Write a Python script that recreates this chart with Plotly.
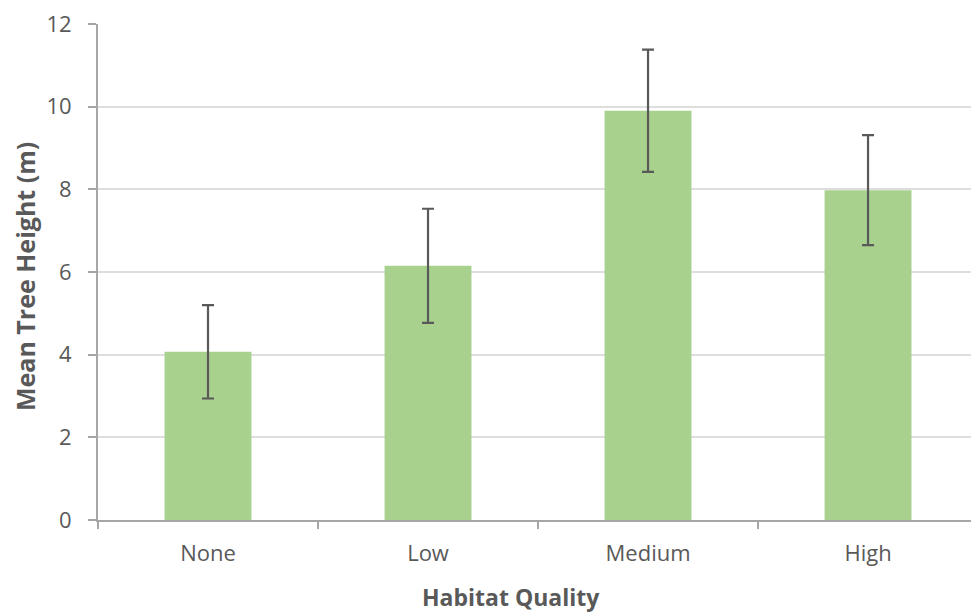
import plotly.graph_objects as go

# Mean tree height by habitat quality, with error bars
categories = ["None", "Low", "Medium", "High"]
mean_height = [4.07, 6.15, 9.9, 7.98]
error = [1.13, 1.38, 1.48, 1.33]
y_ticks = [0, 2, 4, 6, 8, 10, 12]

GREY_TEXT = "#595959"
AXIS_GREY = "#A6A6A6"
FONT = "Open Sans"

fig = go.Figure(
    go.Bar(
        x=categories,
        y=mean_height,
        marker=dict(color="#A9D18E", line=dict(width=0)),
        error_y=dict(type="data", array=error, visible=True,
                     color="#595959", thickness=2.2, width=6),
        width=0.395,
    )
)

fig.update_layout(
    width=971,
    height=613,
    margin=dict(l=98, r=0, t=24, b=93),
    paper_bgcolor="white",
    plot_bgcolor="white",
    showlegend=False,
    font=dict(family=FONT, color=GREY_TEXT, size=22),
    xaxis=dict(
        range=[-0.5, 3.468],
        tickson="boundaries",
        ticks="outside",
        ticklen=7,
        tickcolor=AXIS_GREY,
        tickwidth=2,
        showline=True,
        linecolor=AXIS_GREY,
        linewidth=2,
        showgrid=False,
        tickfont=dict(size=22, color=GREY_TEXT, family=FONT),
        ticklabelstandoff=13,
    ),
    yaxis=dict(
        range=[0, 12],
        tickvals=y_ticks,
        ticks="outside",
        ticklen=8,
        tickcolor=AXIS_GREY,
        tickwidth=2,
        showline=True,
        linecolor=AXIS_GREY,
        linewidth=2,
        showgrid=True,
        gridcolor="#DEDEDE",
        gridwidth=1.5,
        zeroline=False,
        tickfont=dict(size=22, color=GREY_TEXT, family=FONT),
        ticklabelstandoff=12,
    ),
    annotations=[
        dict(text="<b>Habitat Quality</b>", xref="paper", yref="paper",
             x=(511 - 98) / 873, y=-(597 - 520) / 496, yanchor="middle",
             showarrow=False, font=dict(size=23, color=GREY_TEXT, family=FONT)),
        dict(text="<b>Mean Tree Height (m)</b>", xref="paper", yref="paper",
             x=-(98 - 25) / 873, y=(520 - 277) / 496, xanchor="center",
             yanchor="middle", textangle=-90, showarrow=False,
             font=dict(size=25, color=GREY_TEXT, family=FONT)),
    ],
)

fig.write_html("out.html")
